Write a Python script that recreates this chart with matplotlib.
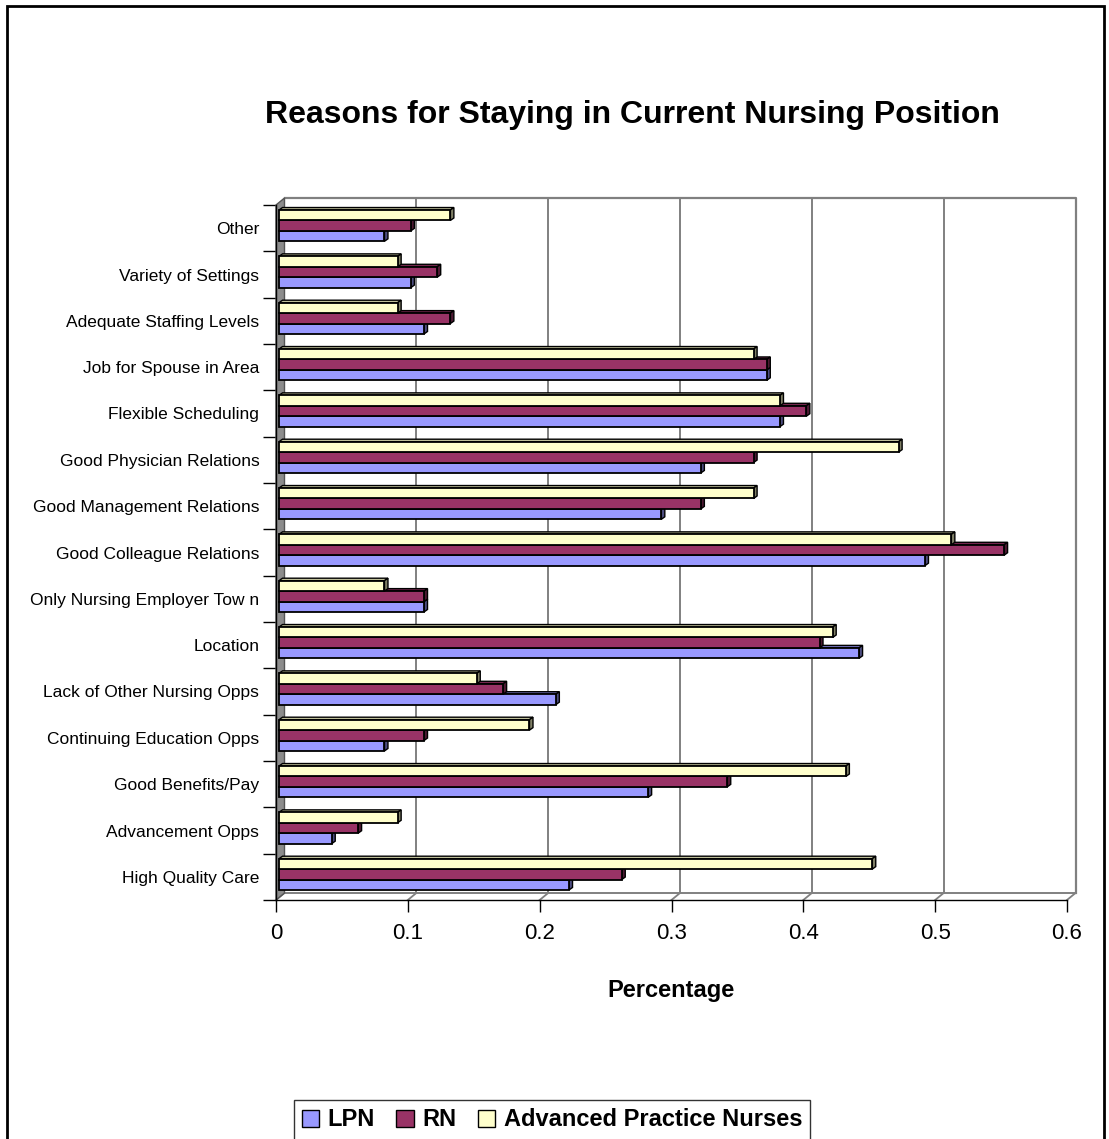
import matplotlib
matplotlib.use("Agg")
import matplotlib.pyplot as plt
from matplotlib.transforms import offset_copy, IdentityTransform
from matplotlib.patches import Polygon, Patch, Rectangle
from matplotlib.lines import Line2D
import numpy as np

# ---- data -------------------------------------------------------------
categories = [
    "High Quality Care",
    "Advancement Opps",
    "Good Benefits/Pay",
    "Continuing Education Opps",
    "Lack of Other Nursing Opps",
    "Location",
    "Only Nursing Employer Tow n",
    "Good Colleague Relations",
    "Good Management Relations",
    "Good Physician Relations",
    "Flexible Scheduling",
    "Job for Spouse in Area",
    "Adequate Staffing Levels",
    "Variety of Settings",
    "Other",
]
lpn = [0.22, 0.04, 0.28, 0.08, 0.21, 0.44, 0.11, 0.49, 0.29, 0.32, 0.38, 0.37, 0.11, 0.10, 0.08]
rn = [0.26, 0.06, 0.34, 0.11, 0.17, 0.41, 0.11, 0.55, 0.32, 0.36, 0.40, 0.37, 0.13, 0.12, 0.10]
apn = [0.45, 0.09, 0.43, 0.19, 0.15, 0.42, 0.08, 0.51, 0.36, 0.47, 0.38, 0.36, 0.09, 0.09, 0.13]
series_names = ["LPN", "RN", "Advanced Practice Nurses"]
series_colors = ["#9999FF", "#993366", "#FFFFCC"]
x_ticks = [0, 0.1, 0.2, 0.3, 0.4, 0.5, 0.6]
x_tick_labels = ["0", "0.1", "0.2", "0.3", "0.4", "0.5", "0.6"]

title = "Reasons for Staying in Current Nursing Position"
x_label = "Percentage"

# ---- figure -----------------------------------------------------------
W, H = 1109, 1139
fig = plt.figure(figsize=(W / 100, H / 100), dpi=100)
fig.patch.set_facecolor("white")

# front plane of the 3-D box
ax = fig.add_axes([276 / W, 1 - 900 / H, 791 / W, 695 / H])
ax.set_xlim(0, 0.6)
ax.set_ylim(0, len(categories))
ax.set_facecolor("none")

WALL = np.array([8.5, 7.0])    # depth of the back wall (pixels)
FRONT = np.array([3.0, 2.5])   # front face of the bars
BACK = np.array([6.5, 5.0])    # back face of the bars
GRID = "#808080"


def shifted(d):
    return offset_copy(ax.transData, fig=fig, x=d[0], y=d[1], units="dots")


def disp(x, y):
    return ax.transData.transform((x, y))


n = len(categories)

# back wall: gridlines and outline
for t in x_ticks[1:-1]:
    ax.plot([t, t], [0, n], color=GRID, lw=1.4, transform=shifted(WALL), zorder=1, clip_on=False)
ax.plot([0, 0.6, 0.6], [n, n, 0], color=GRID, lw=1.6, transform=shifted(WALL), zorder=1, clip_on=False)
ax.plot([0, 0.6], [0, 0], color=GRID, lw=1.4, transform=shifted(WALL), zorder=1, clip_on=False)

# floor diagonals
for t in x_ticks:
    p = disp(t, 0)
    ax.add_line(Line2D([p[0], p[0] + WALL[0]], [p[1], p[1] + WALL[1]], color=GRID, lw=1.3,
                       transform=IdentityTransform(), zorder=1, clip_on=False))

# left side wall
p0, p1 = disp(0, 0), disp(0, n)
wall = Polygon([p0, p1, p1 + WALL, p0 + WALL], closed=True, facecolor="#8c8c8c",
               edgecolor="#555555", lw=1.0, transform=IdentityTransform(), zorder=2, clip_on=False)
ax.add_patch(wall)

# ---- 3-D bars ---------------------------------------------------------
h = 0.225
centers = np.arange(n) + 0.5
depth = BACK - FRONT


def shade(color, f):
    c = np.array(matplotlib.colors.to_rgb(color))
    return tuple(c * f)


for k, (vals, color) in enumerate(zip([lpn, rn, apn], series_colors)):
    ys = centers + (k - 1) * h
    ax.barh(ys, vals, height=h, left=0, color=color, edgecolor="black", linewidth=1.3,
            transform=shifted(FRONT), zorder=4 + 2 * k, clip_on=False)
    for y, v in zip(ys, vals):
        ftl = disp(0, y + h / 2) + FRONT
        ftr = disp(v, y + h / 2) + FRONT
        fbr = disp(v, y - h / 2) + FRONT
        top = Polygon([ftl, ftr, ftr + depth, ftl + depth], closed=True,
                      facecolor=shade(color, 0.75), edgecolor="black", lw=1.0,
                      transform=IdentityTransform(), zorder=3 + 2 * k, clip_on=False)
        end = Polygon([fbr, ftr, ftr + depth, fbr + depth], closed=True,
                      facecolor=shade(color, 0.5), edgecolor="black", lw=1.0,
                      transform=IdentityTransform(), zorder=3 + 2 * k, clip_on=False)
        ax.add_patch(top)
        ax.add_patch(end)

# ---- axes, ticks and labels ------------------------------------------
for s in ("top", "right"):
    ax.spines[s].set_visible(False)
for s in ("left", "bottom"):
    ax.spines[s].set_color("black")
    ax.spines[s].set_linewidth(1.0)
    ax.spines[s].set_zorder(10)

ax.set_yticks(np.arange(n + 1))
ax.set_yticklabels([])
ax.set_yticks(centers, minor=True)
ax.set_yticklabels(categories, minor=True,
                   fontdict={"family": "Liberation Sans", "size": 12.5})
ax.tick_params(axis="y", which="major", direction="out", length=9.4, width=1.0, color="black")
ax.tick_params(axis="y", which="minor", length=0, pad=12)

ax.set_xticks(x_ticks)
ax.set_xticklabels(x_tick_labels, fontdict={"family": "Liberation Sans", "size": 16})
ax.tick_params(axis="x", direction="out", length=8.6, width=1.0, color="black", pad=8)

fig.text(632 / W, 1 - 115 / H, title, ha="center", va="center",
         fontsize=23, fontweight="bold", family="Liberation Sans")
fig.text(671 / W, 1 - 990 / H, x_label, ha="center", va="center",
         fontsize=17, fontweight="bold", family="Liberation Sans")

handles = [Patch(facecolor=c, edgecolor="black", lw=1.0) for c in series_colors]
leg = fig.legend(handles, series_names, loc="center", bbox_to_anchor=(552 / W, 1 - 1120 / H),
                 ncol=3, frameon=True, fancybox=False, handlelength=0.75, handleheight=0.75,
                 handletextpad=0.35, columnspacing=0.9, borderpad=0.35,
                 prop={"family": "Liberation Sans", "weight": "bold", "size": 17})
leg.get_frame().set_edgecolor("black")
leg.get_frame().set_linewidth(1.0)

# outer chart border
fig.add_artist(Rectangle((7 / W, -0.01), 1097 / W, 1 - 6 / H + 0.01, transform=fig.transFigure,
                         fill=False, edgecolor="black", lw=2.0))

fig.savefig("out.png", dpi=100)
